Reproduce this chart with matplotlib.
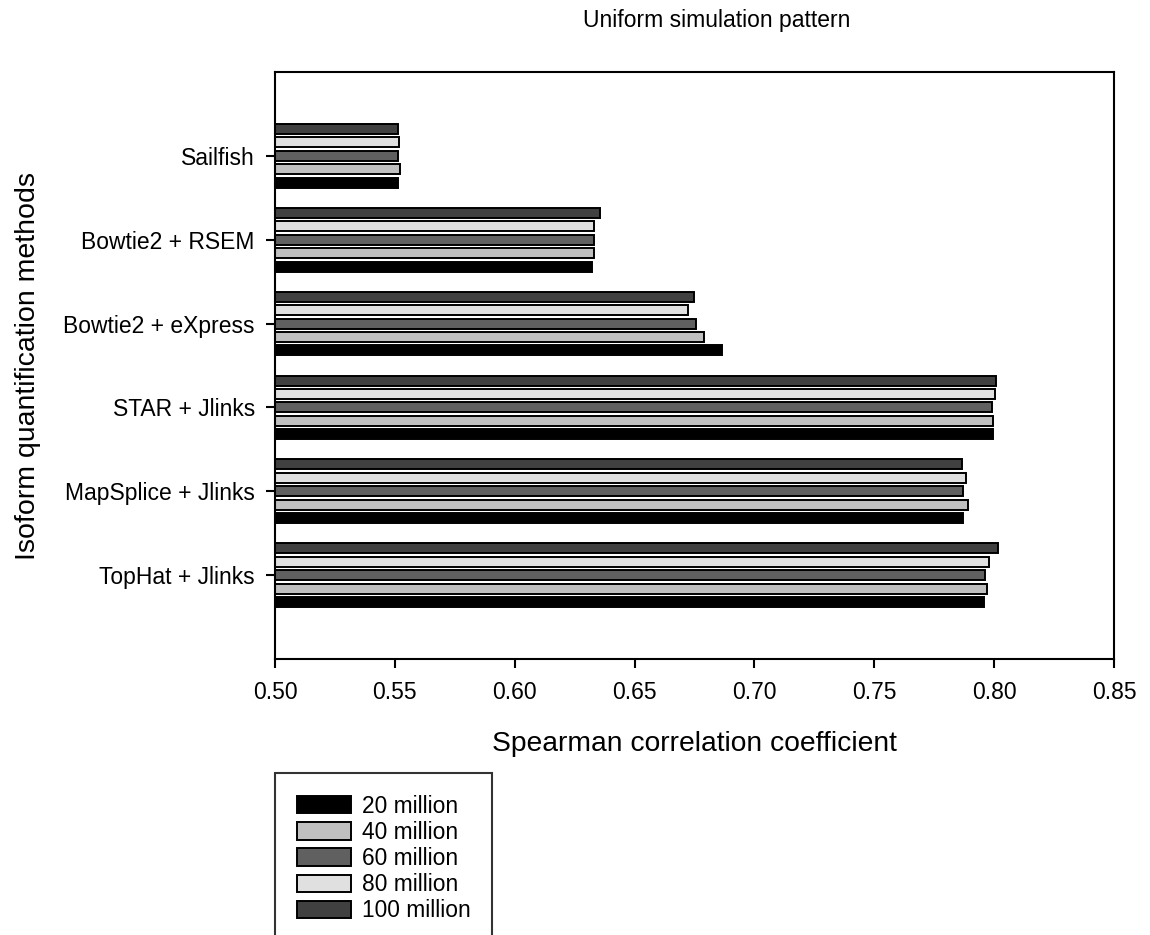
import numpy as np
import matplotlib
matplotlib.use("Agg")
import matplotlib.pyplot as plt

plt.rcParams['font.family'] = ['Liberation Sans', 'DejaVu Sans']

methods = ["TopHat + Jlinks", "MapSplice + Jlinks", "STAR + Jlinks",
           "Bowtie2 + eXpress", "Bowtie2 + RSEM", "Sailfish"]
depths = ["20 million", "40 million", "60 million", "80 million", "100 million"]

# values per depth, same order as methods
v20 = [0.7957, 0.7872, 0.7994, 0.6866, 0.6324, 0.5515]
v40 = [0.7969, 0.7890, 0.7995, 0.6790, 0.6331, 0.5521]
v60 = [0.7963, 0.7870, 0.7993, 0.6758, 0.6332, 0.5513]
v80 = [0.7979, 0.7884, 0.8004, 0.6724, 0.6330, 0.5517]
v100 = [0.8016, 0.7865, 0.8006, 0.6748, 0.6355, 0.5513]

colors = ["#000000", "#c0c0c0", "#606060", "#e0e0e0", "#404040"]

fig = plt.figure(figsize=(11.5, 9.35), dpi=100)
ax = fig.add_axes([275/1150, 1-659/935, (1114-275)/1150, (659-72)/935])

y = np.arange(len(methods))
step = 0.16
h = 0.12
for i, vals in enumerate([v20, v40, v60, v80, v100]):
    off = (i - 2) * step
    ax.barh(y + off, np.array(vals) - 0.5, left=0.5, height=h,
            color=colors[i], edgecolor="black", linewidth=1.4, label=depths[i])

ax.set_xlim(0.5, 0.85)
ax.set_ylim(-1.0, 6.0)
ax.set_xticks(np.arange(0.5, 0.851, 0.05))
ax.set_xticklabels([f"{t:.2f}" for t in np.arange(0.5, 0.851, 0.05)])
ax.set_yticks(y)
ax.set_yticklabels(methods)
ax.tick_params(axis="both", direction="out", length=6.5, width=1.5, labelsize=16.5)
ax.tick_params(axis="y", pad=8)
ax.tick_params(axis="x", pad=9)
for s in ax.spines.values():
    s.set_linewidth(1.5)

ax.set_xlabel("Spearman correlation coefficient", fontsize=20.3, labelpad=20)
ax.set_ylabel("Isoform quantification methods", fontsize=20.5, labelpad=16)
fig.text(717/1150, 1-20/935, "Uniform simulation pattern", fontsize=16.5,
         ha="center", va="center")

handles, labels = ax.get_legend_handles_labels()
leg = fig.legend(handles, labels, loc="upper left",
                 bbox_to_anchor=(275/1150, 1-773/935), fontsize=16.4,
                 frameon=True, fancybox=False, edgecolor="black",
                 handlelength=2.4, handleheight=0.8, labelspacing=0.14,
                 borderpad=0.95, handletextpad=0.45, borderaxespad=0)
leg.get_frame().set_linewidth(1.5)

fig.savefig("out.png", dpi=100)
